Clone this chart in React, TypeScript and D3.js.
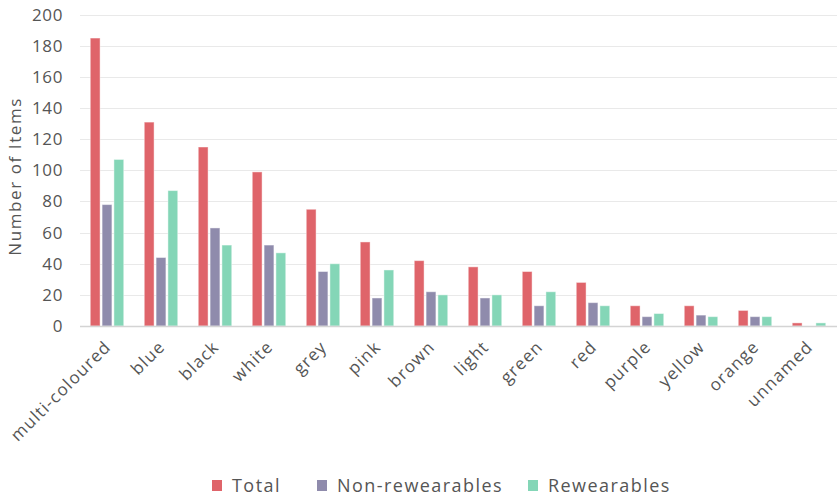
import React, { useEffect, useRef } from "react";
import * as d3 from "d3";

const categories = ["multi-coloured", "blue", "black", "white", "grey", "pink", "brown", "light", "green", "red", "purple", "yellow", "orange", "unnamed"];
const seriesNames = ["Total", "Non-rewearables", "Rewearables"];
const totalValues = [185, 131, 115, 99, 75, 54, 42, 38, 35, 28, 13, 13, 10, 2];
const nonRewearableValues = [78, 44, 63, 52, 35, 18, 22, 18, 13, 15, 6, 7, 6, 0];
const rewearableValues = [107, 87, 52, 47, 40, 36, 20, 20, 22, 13, 8, 6, 6, 2];
const yTicks = [0, 20, 40, 60, 80, 100, 120, 140, 160, 180, 200];
const colors = ["#df646a", "#8f8bac", "#84d6b7"];

const W = 837;
const H = 498;
const FONT = "'Open Sans', sans-serif";

export default function App() {
  const ref = useRef<SVGSVGElement>(null);
  useEffect(() => {
    document.body.style.margin = "0";
    const svg = d3.select(ref.current);
    svg.selectAll("*").remove();
    const left = 80, right = 836, top = 14.7, bottom = 326;
    const x0 = d3.scaleBand().domain(categories).range([left, right]).paddingInner(0.38).paddingOuter(0.19);
    const x1 = d3.scaleBand().domain(seriesNames).range([0, x0.bandwidth()]).paddingInner(0.17).paddingOuter(0);
    const y = d3.scaleLinear().domain([0, 200]).range([bottom, top]);
    const series = [totalValues, nonRewearableValues, rewearableValues];

    // gridlines
    svg.append("g").selectAll("line").data(yTicks.filter(t => t > 0)).join("line")
      .attr("x1", left).attr("x2", W)
      .attr("y1", d => Math.round(y(d)) + 0.5).attr("y2", d => Math.round(y(d)) + 0.5)
      .attr("stroke", "#e9e9e9").attr("stroke-width", 1);

    // y tick labels
    svg.append("g").selectAll("text").data(yTicks).join("text")
      .attr("x", 63).attr("y", d => y(d)).attr("dy", "0.35em")
      .attr("text-anchor", "end").attr("font-family", FONT).attr("font-size", 17)
      .attr("letter-spacing", 0.6)
      .attr("fill", "#555").text(d => d);

    // y title
    svg.append("text")
      .attr("transform", `translate(21,${(top + bottom) / 2 + 6}) rotate(-90)`)
      .attr("text-anchor", "middle").attr("font-family", FONT).attr("font-size", 17)
      .attr("letter-spacing", 1.6)
      .attr("fill", "#555").text("Number of Items");

    // bars
    const g = svg.append("g");
    categories.forEach((c, i) => {
      seriesNames.forEach((s, j) => {
        const v = series[j][i];
        if (v <= 0) return;
        g.append("rect")
          .attr("x", (x0(c) ?? 0) + (x1(s) ?? 0))
          .attr("y", y(v))
          .attr("width", x1.bandwidth())
          .attr("height", bottom - y(v))
          .attr("fill", colors[j])
          .attr("stroke", "#ffffff").attr("stroke-opacity", 0.45).attr("stroke-width", 1);
      });
    });

    // baseline
    svg.append("line").attr("x1", left).attr("x2", W).attr("y1", bottom + 0.5).attr("y2", bottom + 0.5)
      .attr("stroke", "#d4d4d4").attr("stroke-width", 1.5);

    // x labels
    svg.append("g").selectAll("text").data(categories).join("text")
      .attr("transform", d => `translate(${(x0(d) ?? 0) + x0.bandwidth() / 2 + 5},${bottom + 22}) rotate(-45)`)
      .attr("text-anchor", "end").attr("font-family", FONT).attr("font-size", 17)
      .attr("letter-spacing", 1.2)
      .attr("fill", "#555").text(d => d);

    // legend
    const legendItems = [
      { name: "Total", sx: 212, tx: 232 },
      { name: "Non-rewearables", sx: 317, tx: 337 },
      { name: "Rewearables", sx: 528, tx: 548 },
    ];
    const lg = svg.append("g");
    legendItems.forEach((it, j) => {
      lg.append("rect").attr("x", it.sx).attr("y", 480).attr("width", 10).attr("height", 11).attr("fill", colors[j]);
      lg.append("text").attr("x", it.tx).attr("y", 486).attr("dy", "0.35em")
        .attr("font-family", FONT).attr("font-size", 18).attr("letter-spacing", 1.45)
        .attr("fill", "#555").text(it.name);
    });
  }, []);
  return <svg ref={ref} width={W} height={H} style={{ display: "block", background: "#fff" }} />;
}
